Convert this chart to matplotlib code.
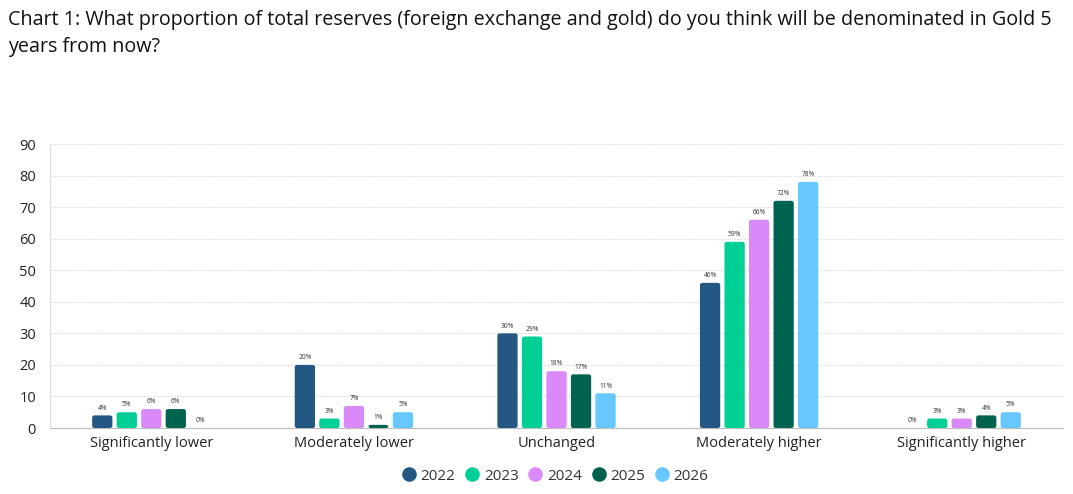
import numpy as np
import matplotlib.pyplot as plt
from matplotlib.patches import FancyBboxPatch
from matplotlib.lines import Line2D

plt.rcParams['font.family'] = ['Open Sans', 'DejaVu Sans']

# données
categories = ["Significantly lower", "Moderately lower", "Unchanged",
              "Moderately higher", "Significantly higher"]
annees = ["2022", "2023", "2024", "2025", "2026"]
v2022 = [4, 20, 30, 46, 0]
v2023 = [5, 3, 29, 59, 3]
v2024 = [6, 7, 18, 66, 3]
v2025 = [6, 1, 17, 72, 4]
v2026 = [0, 5, 11, 78, 5]
series = [v2022, v2023, v2024, v2025, v2026]
couleurs = ["#235885", "#00CF96", "#DA8AF8", "#00634F", "#67C7FF"]

fig = plt.figure(figsize=(10.73, 4.94), dpi=100)
ax = fig.add_axes([0.0466, 0.1336, 0.9441, 0.5749])

x = np.arange(len(categories))
pas = 0.121
largeur = 0.1
for i, (vals, c) in enumerate(zip(series, couleurs)):
    pos = x + (i - 2) * pas
    barres = ax.bar(pos, vals, width=largeur, color=c, alpha=0)
    for b, v in zip(barres, vals):
        if v > 0:
            p = FancyBboxPatch((b.get_x(), 0), largeur, v,
                               boxstyle="round,pad=0,rounding_size=0.012",
                               mutation_aspect=60, fc=c, ec="none", zorder=3)
            ax.add_patch(p)
        ax.text(b.get_x() + largeur / 2, v + 1.2, "%d%%" % v, ha='center',
                va='bottom', fontsize=4.8, color='#333333')

ax.set_xlim(-0.5, 4.5)
ax.set_ylim(0, 90)
ax.set_yticks(np.arange(0, 91, 10))
ax.set_xticks(x)
ax.set_xticklabels(categories, fontsize=10.5, color='#222222')
ax.tick_params(axis='y', labelsize=10.5, colors='#222222', length=0, pad=10)
ax.tick_params(axis='x', length=0, pad=6)
ax.grid(axis='y', color='#e2e2e2', linewidth=0.8, linestyle=(0, (2, 1)))
ax.set_axisbelow(True)
for s in ['top', 'right']:
    ax.spines[s].set_visible(False)
ax.spines['bottom'].set_color('#bbbbbb')
ax.spines['left'].set_color('#dddddd')

handles = [Line2D([], [], marker='o', linestyle='none', markersize=10.5,
                  markerfacecolor=c, markeredgecolor='none') for c in couleurs]
fig.legend(handles, annees, loc='center', bbox_to_anchor=(0.517, 0.036),
           ncol=5, frameon=False, fontsize=11, handlelength=1.0,
           handletextpad=0.25, columnspacing=0.6, labelcolor='#333333')

fig.text(0.0075, 0.98, "Chart 1: What proportion of total reserves (foreign exchange and gold) do you think will be denominated in Gold 5\nyears from now?",
         ha='left', va='top', fontsize=14.2, color='#111111', linespacing=1.45)

fig.savefig("out.png", dpi=100)
